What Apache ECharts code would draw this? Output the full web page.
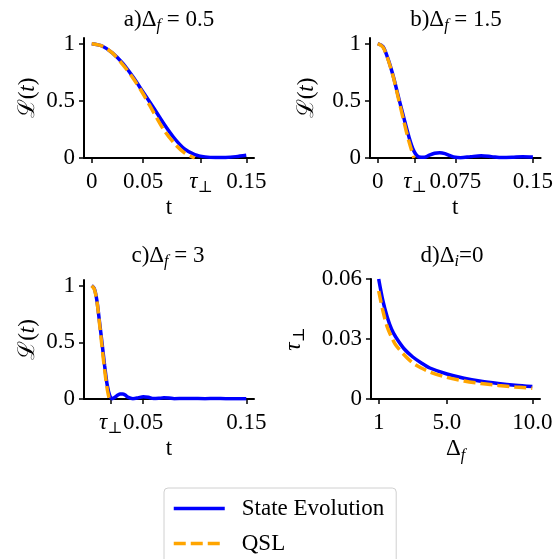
<!doctype html>
<html>
<head>
    <meta charset="utf-8">
    <title>QSL</title>
    <script src="https://cdn.jsdelivr.net/npm/echarts@6/dist/echarts.min.js"></script>
    <style>
        html, body { margin: 0; padding: 0; background: #fff; }
        #chart { width: 556px; height: 559px; }
    </style>
</head>
<body>
<div id="chart"></div>
<script>
    // a) Δf = 0.5
    var tA      = [0, 0.01, 0.02, 0.03, 0.04, 0.05, 0.06, 0.07, 0.08, 0.09, 0.1, 0.11, 0.12, 0.13, 0.14, 0.15];
    var seA     = [1, 0.98, 0.92, 0.83, 0.71, 0.575, 0.44, 0.30, 0.175, 0.08, 0.03, 0.01, 0.004, 0.005, 0.012, 0.024];
    var tQslA   = [0, 0.01, 0.02, 0.03, 0.04, 0.05, 0.06, 0.07, 0.08, 0.09, 0.1];
    var qslA    = [1, 0.98, 0.92, 0.82, 0.70, 0.56, 0.40, 0.245, 0.13, 0.045, 0];
    // b) Δf = 1.5
    var tB      = [0, 0.005, 0.01, 0.015, 0.02, 0.025, 0.03, 0.035, 0.04, 0.045, 0.05, 0.055, 0.06, 0.065, 0.07, 0.075, 0.08, 0.09, 0.1, 0.11, 0.12, 0.13, 0.14, 0.15];
    var seB     = [1, 0.975, 0.865, 0.715, 0.535, 0.36, 0.19, 0.06, 0.008, 0.006, 0.025, 0.042, 0.046, 0.038, 0.02, 0.006, 0.003, 0.012, 0.019, 0.012, 0.004, 0.006, 0.01, 0.008];
    var tQslB   = [0, 0.005, 0.01, 0.015, 0.02, 0.025, 0.03, 0.035];
    var qslB    = [1, 0.97, 0.86, 0.71, 0.52, 0.33, 0.15, 0];
    // c) Δf = 3
    var tC      = [0, 0.0025, 0.005, 0.0075, 0.01, 0.0125, 0.015, 0.0175, 0.02, 0.0225, 0.025, 0.0275, 0.03, 0.0325, 0.035, 0.04, 0.045, 0.05, 0.055, 0.06, 0.065, 0.07, 0.075, 0.08, 0.09, 0.1, 0.11, 0.12, 0.13, 0.14, 0.15];
    var seC     = [1, 0.975, 0.87, 0.685, 0.495, 0.295, 0.125, 0.03, 0.003, 0.015, 0.033, 0.044, 0.045, 0.035, 0.016, 0.003, 0.01, 0.02, 0.015, 0.004, 0.006, 0.01, 0.008, 0.003, 0.005, 0.004, 0.003, 0.004, 0.003, 0.003, 0.003];
    var tQslC   = [0, 0.0025, 0.005, 0.0075, 0.01, 0.0125, 0.015, 0.017];
    var qslC    = [1, 0.97, 0.865, 0.67, 0.46, 0.26, 0.09, 0];
    // d) Δi = 0
    var deltaF  = [1, 1.25, 1.5, 1.75, 2, 2.5, 3, 3.5, 4, 5, 6, 7, 8, 9, 10];
    var tauSE   = [0.060, 0.049, 0.041, 0.035, 0.031, 0.025, 0.021, 0.018, 0.0155, 0.0125, 0.0104, 0.0089, 0.0078, 0.0069, 0.0062];
    var tauQSL  = [0.054, 0.044, 0.036, 0.031, 0.027, 0.022, 0.018, 0.0155, 0.0135, 0.0108, 0.009, 0.0077, 0.0068, 0.006, 0.0054];

    // ticks
    var xTicksA = [0, 0.05, 0.106, 0.15];
    var xLabA   = ['0', '0.05', 'τ⊥', '0.15'];
    var xTicksB = [0, 0.036, 0.075, 0.15];
    var xLabB   = ['0', 'τ⊥', '0.075', '0.15'];
    var xTicksC = [0.0184, 0.05, 0.15];
    var xLabC   = ['τ⊥', '0.05', '0.15'];
    var xTicksD = [1, 5, 10];
    var xLabD   = ['1', '5.0', '10.0'];
    var yTicksL = [0, 0.5, 1];
    var yLabL   = ['0', '0.5', '1'];
    var yTicksD = [0, 0.03, 0.06];
    var yLabD   = ['0', '0.03', '0.06'];

    var SERIF = "'Liberation Serif', 'DejaVu Serif', 'Times New Roman', serif";
    var BLUE = '#0000ff', ORANGE = '#ffa500';

    var RICH = {
        n:  { fontFamily: SERIF, fontSize: 23, lineHeight: 26, fontWeight: 'normal', color: '#000' },
        it: { fontFamily: SERIF, fontSize: 23, lineHeight: 26, fontWeight: 'normal', fontStyle: 'italic', color: '#000' },
        s:  { fontFamily: SERIF, fontSize: 16, lineHeight: 14, fontWeight: 'normal', fontStyle: 'italic', padding: [12, 0, 0, 0], color: '#000' },
        s2: { fontFamily: SERIF, fontSize: 16, lineHeight: 14, fontWeight: 'normal', padding: [12, 0, 0, 0], color: '#000' }
    };

    function pairs(xs, ys) {
        return ys.map(function (y, i) { return [xs[i], y]; });
    }

    function fmt(ticks, labels) {
        return function (v) {
            var best = 0;
            ticks.forEach(function (t, i) {
                if (Math.abs(t - v) < Math.abs(ticks[best] - v)) best = i;
            });
            var s = labels[best];
            if (s === 'τ⊥') return '{it|τ}{s2|⊥}';
            return '{n|' + s + '}';
        };
    }

    var axisLine = { show: true, onZero: false, lineStyle: { color: '#000', width: 2 } };

    function xAxis(idx, min, max, ticks, labels, name) {
        return {
            type: 'value', gridIndex: idx, min: min, max: max,
            axisLine: axisLine,
            axisTick: { show: true, length: 5, lineStyle: { color: '#000', width: 1.5 }, customValues: ticks },
            axisLabel: { customValues: ticks, formatter: fmt(ticks, labels), rich: RICH, margin: 11 },
            splitLine: { show: false },
            name: name, nameLocation: 'middle', nameGap: 35,
            nameTextStyle: { rich: RICH }
        };
    }

    function yAxis(idx, min, max, ticks, labels, name, gap) {
        return {
            type: 'value', gridIndex: idx, min: min, max: max,
            axisLine: axisLine,
            axisTick: { show: true, length: 5, lineStyle: { color: '#000', width: 1.5 }, customValues: ticks },
            axisLabel: { customValues: ticks, formatter: fmt(ticks, labels), rich: RICH, margin: 9 },
            splitLine: { show: false },
            name: name, nameLocation: 'middle', nameGap: gap,
            nameTextStyle: { rich: RICH }
        };
    }

    function seLine(idx, data) {
        return {
            name: 'State Evolution', type: 'line', xAxisIndex: idx, yAxisIndex: idx,
            data: data, symbol: 'none', smooth: 0.3,
            lineStyle: { color: BLUE, width: 3.5 }, itemStyle: { color: BLUE }
        };
    }

    function qslLine(idx, data) {
        return {
            name: 'QSL', type: 'line', xAxisIndex: idx, yAxisIndex: idx,
            data: data, symbol: 'none', smooth: 0.3,
            lineStyle: { color: ORANGE, width: 3.5, type: [12, 5] }, itemStyle: { color: ORANGE }
        };
    }

    function title(txt, cx, top) {
        return { text: txt, left: cx, top: top, textAlign: 'center', padding: 0,
                 textStyle: { fontWeight: 'normal', rich: RICH } };
    }

    var myChart = echarts.init(document.getElementById('chart'), null, { renderer: 'canvas' });
    var option = {
        animation: false,
        backgroundColor: '#fff',
        title: [
            title('{n|a)Δ}{s|f}{n| = 0.5}', 169, 7),
            title('{n|b)Δ}{s|f}{n| = 1.5}', 456, 7),
            title('{n|c)Δ}{s|f}{n| = 3}', 168, 243),
            title('{n|d)Δ}{s|i}{n|=0}', 452, 243)
        ],
        legend: {
            orient: 'vertical', left: 164, top: 488, height: 90,
            itemWidth: 51, itemHeight: 14, itemGap: 12,
            padding: [9, 12, 20, 8],
            borderColor: '#d0d0d0', borderWidth: 1, borderRadius: 4,
            itemStyle: { color: 'rgba(0,0,0,0)', borderWidth: 0 },
            lineStyle: { width: 3.5 },
            textStyle: { fontFamily: SERIF, fontSize: 23, color: '#000', padding: [0, 0, 0, 12] },
            data: ['State Evolution', 'QSL']
        },
        grid: [
            { left: 84, top: 38, width: 170, height: 120 },
            { left: 370, top: 38, width: 172, height: 120 },
            { left: 84, top: 280, width: 170, height: 119 },
            { left: 371, top: 279, width: 169, height: 120 }
        ],
        xAxis: [
            xAxis(0, -0.0075, 0.1575, xTicksA, xLabA, '{n|t}'),
            xAxis(1, -0.0075, 0.1575, xTicksB, xLabB, '{n|t}'),
            xAxis(2, -0.0075, 0.1575, xTicksC, xLabC, '{n|t}'),
            xAxis(3, 0.55, 10.45, xTicksD, xLabD, '{n|Δ}{s|f}')
        ],
        yAxis: [
            yAxis(0, 0, 1.05, yTicksL, yLabL, '{n|ℒ(}{it|t}{n|)}', 43),
            yAxis(1, 0, 1.05, yTicksL, yLabL, '{n|ℒ(}{it|t}{n|)}', 50),
            yAxis(2, 0, 1.05, yTicksL, yLabL, '{n|ℒ(}{it|t}{n|)}', 43),
            yAxis(3, 0, 0.06, yTicksD, yLabD, '{it|τ}{s2|⊥}', 64)
        ],
        series: [
            seLine(0, pairs(tA, seA)),
            qslLine(0, pairs(tQslA, qslA)),
            seLine(1, pairs(tB, seB)),
            qslLine(1, pairs(tQslB, qslB)),
            seLine(2, pairs(tC, seC)),
            qslLine(2, pairs(tQslC, qslC)),
            seLine(3, pairs(deltaF, tauSE)),
            qslLine(3, pairs(deltaF, tauQSL))
        ]
    };
    myChart.setOption(option);
</script>
</body>
</html>
